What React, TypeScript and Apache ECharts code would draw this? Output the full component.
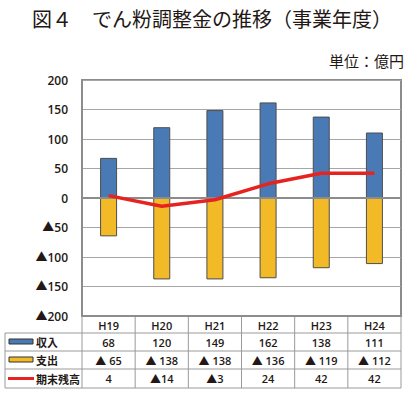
import React, { useEffect, useRef } from "react";
import * as echarts from "echarts";

const categories = ["H19", "H20", "H21", "H22", "H23", "H24"];
const income = [68, 120, 149, 162, 138, 111];
const expense = [-65, -138, -138, -136, -119, -112];
const balance = [4, -14, -3, 24, 42, 42];
const rowNames = ["収入", "支出", "期末残高"];
const rowColors = ["#4A7AB5", "#F2BA26", "#E52421"];

const W = 408;
const H = 396;
const GL = 82;
const GR = 401;
const GT = 80;
const GB = 316;
const ROWS = [316, 333, 351, 369, 388];
const TL = 5;
const FONT = "'Noto Sans CJK JP', sans-serif";
const NUMFONT = "'Open Sans', 'Noto Sans CJK JP', sans-serif";
const TXT = "#231815";
const LINEC = "#9a9a9a";

const fmtRow2 = (v: number) => (v < 0 ? "▲ " + -v : String(v));
const fmtRow3 = (v: number) => (v < 0 ? "▲" + -v : String(v));

export default function App() {
  const ref = useRef<HTMLDivElement>(null);
  useEffect(() => {
    if (!ref.current) return;
    const chart = echarts.init(ref.current, null, { renderer: "svg", width: W, height: H });
    const colW = (GR - GL) / categories.length;
    const graphics: any[] = [];
    // table lines
    for (let r = 1; r < ROWS.length; r++) {
      graphics.push({ type: "line", shape: { x1: TL, y1: ROWS[r], x2: GR, y2: ROWS[r] }, style: { stroke: LINEC, lineWidth: 1 } });
    }
    graphics.push({ type: "line", shape: { x1: TL, y1: ROWS[1], x2: TL, y2: ROWS[4] }, style: { stroke: LINEC, lineWidth: 1 } });
    for (let c = 0; c <= categories.length; c++) {
      const x = GL + c * colW;
      graphics.push({ type: "line", shape: { x1: x, y1: ROWS[0], x2: x, y2: ROWS[4] }, style: { stroke: LINEC, lineWidth: 1 } });
    }
    // legend swatches + names
    rowNames.forEach((name, r) => {
      const cy = (ROWS[r + 1] + ROWS[r + 2]) / 2;
      if (r < 2) {
        graphics.push({ type: "rect", shape: { x: 9, y: cy - 3, width: 24, height: 5 }, style: { fill: rowColors[r], stroke: "#333", lineWidth: 1 } });
      } else {
        graphics.push({ type: "line", shape: { x1: 8, y1: cy, x2: 34, y2: cy }, style: { stroke: rowColors[r], lineWidth: 3 } });
      }
      graphics.push({ type: "text", x: 36, y: cy, style: { text: name, fill: TXT, font: `bold 11px ${FONT}`, verticalAlign: "middle" } });
    });
    // values
    const rows = [income.map(String), expense.map(fmtRow2), balance.map(fmtRow3)];
    rows.forEach((vals, r) => {
      const cy = (ROWS[r + 1] + ROWS[r + 2]) / 2;
      vals.forEach((t, c) => {
        graphics.push({
          type: "text",
          x: GL + (c + 0.5) * colW,
          y: cy,
          style: { text: t, fill: TXT, font: `600 11px ${NUMFONT}`, align: "center", verticalAlign: "middle" },
        });
      });
    });
    // titles
    graphics.push({ type: "text", x: 212, y: 18, style: { text: "図４　でん粉調整金の推移（事業年度）", fill: TXT, font: `20px ${FONT}`, align: "center", verticalAlign: "middle" } });
    graphics.push({ type: "text", x: 404, y: 60, style: { text: "単位：億円", fill: TXT, font: `15px ${FONT}`, align: "right", verticalAlign: "middle" } });

    chart.setOption({
      animation: false,
      grid: { left: GL, right: W - GR, top: GT, bottom: H - GB, show: true, borderColor: "#8c8c8c", borderWidth: 2, backgroundColor: "transparent" },
      xAxis: {
        type: "category",
        data: categories,
        position: "bottom",
        axisLine: { onZero: false, lineStyle: { color: "#8c8c8c", width: 2 } },
        axisTick: { show: false },
        axisLabel: { margin: 4, fontSize: 11, fontWeight: 600, fontFamily: NUMFONT, color: TXT },
      },
      yAxis: {
        type: "value",
        min: -200,
        max: 200,
        interval: 50,
        axisLine: { show: true, lineStyle: { color: "#8c8c8c", width: 2 } },
        axisTick: { show: false },
        splitLine: { lineStyle: { color: "#a6a6a6", width: 1 } },
        axisLabel: {
          margin: 14,
          fontSize: 12,
          fontWeight: 600,
          fontFamily: NUMFONT,
          color: TXT,
          formatter: (v: number) => (v < 0 ? "▲" + -v : String(v)),
        },
      },
      series: [
        {
          name: "収入",
          type: "bar",
          data: income,
          barWidth: 17,
          barGap: "-100%",
          itemStyle: { color: rowColors[0], borderColor: "#4d4d4d", borderWidth: 1 },
          markLine: {
            silent: true,
            symbol: "none",
            label: { show: false },
            lineStyle: { color: "#8c8c8c", width: 2, type: "solid" },
            data: [{ yAxis: 0 }],
          },
        },
        {
          name: "支出",
          type: "bar",
          data: expense,
          barWidth: 17,
          itemStyle: { color: rowColors[1], borderColor: "#4d4d4d", borderWidth: 1 },
        },
        {
          name: "期末残高",
          type: "line",
          data: balance,
          symbol: "none",
          z: 5,
          lineStyle: { color: rowColors[2], width: 3.5 },
        },
      ],
      graphic: graphics,
    });
    return () => chart.dispose();
  }, []);
  return <div ref={ref} style={{ position: "fixed", left: 0, top: 0, width: W, height: H, background: "#fff" }} />;
}
